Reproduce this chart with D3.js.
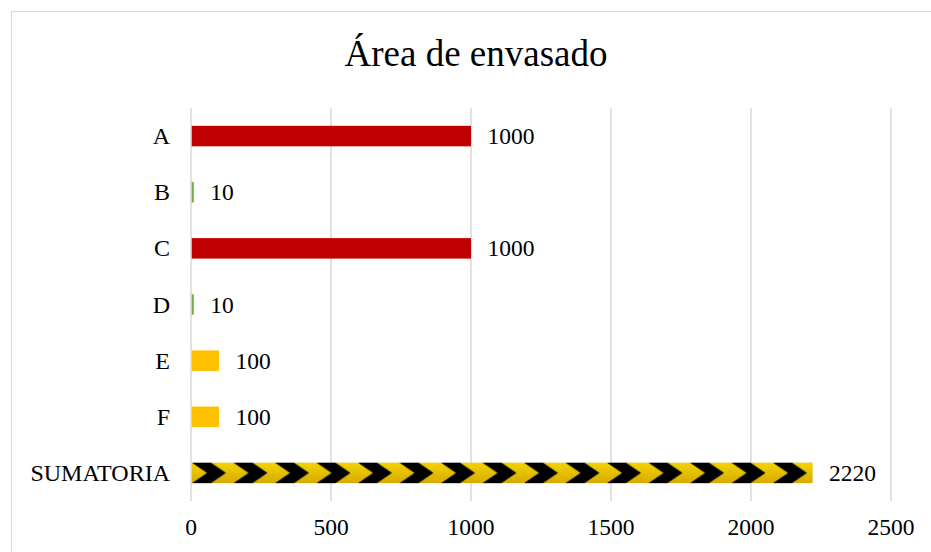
<!DOCTYPE html>
<html>
<head>
<meta charset="utf-8">
<script src="https://cdn.jsdelivr.net/npm/d3@7"></script>
<style>
  html, body { margin: 0; padding: 0; background: #fff; }
  svg { display: block; }
  text { font-family: "Liberation Serif", "Times New Roman", serif; fill: #000; }
</style>
</head>
<body>
<svg id="chart" width="931" height="552"></svg>
<script>
const title = "Área de envasado";
const categories = ["A", "B", "C", "D", "E", "F", "SUMATORIA"];
const values = [1000, 10, 1000, 10, 100, 100, 2220];
const fills = ["red", "green", "red", "green", "yellow", "yellow", "chevron"];
const xTicks = [0, 500, 1000, 1500, 2000, 2500];

const svg = d3.select("#chart");

// chart border
svg.append("rect")
  .attr("x", 11.5).attr("y", 11.5)
  .attr("width", 940).attr("height", 560)
  .attr("fill", "#fff").attr("stroke", "#d9d9d9").attr("stroke-width", 1);

const x = d3.scaleLinear().domain([0, 2500]).range([191, 891]);
const y = d3.scaleBand().domain(categories).range([108, 501]).paddingInner(0.635).paddingOuter(0.3175);

const colorMap = { red: "#C00000", green: "#70AD47", yellow: "#FFC000" };

// defs: chevron pattern
const defs = svg.append("defs");
const grad = defs.append("linearGradient").attr("id", "ygrad")
  .attr("x1", 0).attr("y1", 0).attr("x2", 0).attr("y2", 1);
grad.append("stop").attr("offset", "0%").attr("stop-color", "#f2d400");
grad.append("stop").attr("offset", "100%").attr("stop-color", "#d8aa00");

const sumTop = y("SUMATORIA");
const bh = y.bandwidth();
const P = 41.5, t = 19, d = 15, x0 = 1;
const pat = defs.append("pattern").attr("id", "chev")
  .attr("patternUnits", "userSpaceOnUse")
  .attr("x", x(0)).attr("y", sumTop)
  .attr("width", P).attr("height", bh);
pat.append("rect").attr("width", P).attr("height", bh).attr("fill", "url(#ygrad)");
pat.append("polygon")
  .attr("points", [[x0, 0], [x0 + t, 0], [x0 + t + d, bh / 2], [x0 + t, bh], [x0, bh], [x0 + d, bh / 2]].map(p => p.join(",")).join(" "))
  .attr("fill", "#000");

// gridlines
svg.append("g").selectAll("line").data(xTicks).join("line")
  .attr("x1", d => x(d)).attr("x2", d => x(d))
  .attr("y1", 108).attr("y2", 501)
  .attr("stroke", "#d9d9d9").attr("stroke-width", 1.5);

// x tick labels
svg.append("g").selectAll("text").data(xTicks).join("text")
  .attr("x", d => x(d)).attr("y", 535)
  .attr("text-anchor", "middle")
  .attr("font-size", 23.5)
  .text(d => d);

// bars
const rows = categories.map((c, i) => ({ c, v: values[i], f: fills[i] }));
svg.append("g").selectAll("rect").data(rows).join("rect")
  .attr("x", x(0) + 0.75)
  .attr("y", d => y(d.c))
  .attr("width", d => x(d.v) - x(0) - 0.75)
  .attr("height", bh)
  .attr("fill", d => d.f === "chevron" ? "url(#chev)" : colorMap[d.f]);

// category labels
svg.append("g").selectAll("text").data(rows).join("text")
  .attr("x", 170)
  .attr("y", d => y(d.c) + bh / 2 + 8)
  .attr("text-anchor", "end")
  .attr("font-size", 24)
  .text(d => d.c);

// value labels
svg.append("g").selectAll("text").data(rows).join("text")
  .attr("x", d => x(d.v) + 16.5)
  .attr("y", d => y(d.c) + bh / 2 + 8)
  .attr("font-size", 23.5)
  .text(d => d.v);

// title
svg.append("text")
  .attr("x", 476).attr("y", 66)
  .attr("text-anchor", "middle")
  .attr("font-size", 37)
  .text(title);
</script>
</body>
</html>
